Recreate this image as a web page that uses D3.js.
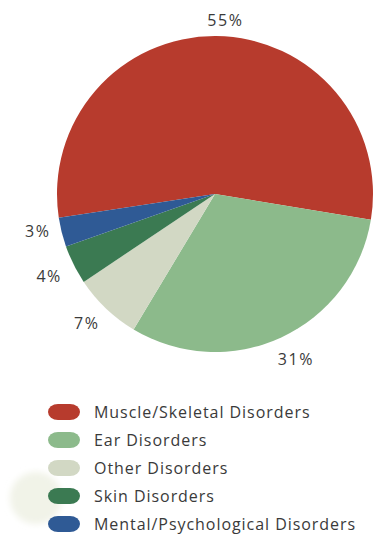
<!DOCTYPE html>
<html>
<head>
<meta charset="utf-8">
<script src="https://cdn.jsdelivr.net/npm/d3@7/dist/d3.min.js"></script>
<style>
  html, body { margin: 0; padding: 0; background: #ffffff; }
  svg { display: block; }
  text { font-family: "Open Sans", "Noto Sans", sans-serif; fill: #3a3a3a; }
</style>
</head>
<body>
<svg id="chart" width="375" height="538"></svg>
<script>
// Occupational disorder shares (percent), listed clockwise from the largest slice
const categories = ["Muscle/Skeletal Disorders", "Ear Disorders", "Other Disorders", "Skin Disorders", "Mental/Psychological Disorders"];
const shares = [55, 31, 7, 4, 3];
const shareLabels = ["55%", "31%", "7%", "4%", "3%"];
const colors = ["#b73b2d", "#8cba8b", "#d2d8c4", "#3b7a52", "#2f5a95"];

const svg = d3.select("#chart");
const cx = 215, cy = 194, radius = 158;
const deg = Math.PI / 180;

const pie = d3.pie()
  .sort(null)
  .value(d => d.value)
  .startAngle(-98.6 * deg)
  .endAngle((360 - 98.6) * deg);

const data = categories.map((c, i) => ({ name: c, value: shares[i], label: shareLabels[i], color: colors[i] }));
const arcs = pie(data);

const arc = d3.arc().innerRadius(0).outerRadius(radius);

const g = svg.append("g").attr("transform", `translate(${cx},${cy})`);

g.selectAll("path.slice")
  .data(arcs)
  .join("path")
  .attr("class", "slice")
  .attr("d", arc)
  .attr("fill", d => d.data.color);

// Percentage labels placed outside the rim, nudged off each slice's mid-angle
const labelRadius = [174, 184, 182, 185, 181];
const labelNudge = [3, -1.3, 1.2, 0.3, 2.2];
const labelPos = (d, i) => {
  const a = (d.startAngle + d.endAngle) / 2 + labelNudge[i] * deg;
  return [Math.sin(a) * labelRadius[i], -Math.cos(a) * labelRadius[i]];
};
g.selectAll("text.pct")
  .data(arcs)
  .join("text")
  .attr("class", "pct")
  .attr("text-anchor", "middle")
  .attr("dominant-baseline", "central")
  .attr("font-size", 16)
  .attr("letter-spacing", 1.6)
  .attr("x", (d, i) => labelPos(d, i)[0])
  .attr("y", (d, i) => labelPos(d, i)[1])
  .text(d => d.data.label);

// Soft pale spot behind the legend
const defs = svg.append("defs");
defs.append("filter").attr("id", "soft")
  .append("feGaussianBlur").attr("stdDeviation", 3);
svg.append("circle")
  .attr("cx", 36).attr("cy", 498).attr("r", 26)
  .attr("fill", "#f1f3e8")
  .attr("filter", "url(#soft)");

// Legend
const legendY = d3.scaleBand().domain(categories).range([398, 538]).paddingInner(0);
const legend = svg.append("g");
const rows = legend.selectAll("g.row")
  .data(data)
  .join("g")
  .attr("class", "row")
  .attr("transform", d => `translate(0,${legendY(d.name) + legendY.bandwidth() / 2})`);

rows.append("rect")
  .attr("x", 48).attr("y", -8)
  .attr("width", 32).attr("height", 16)
  .attr("rx", 10).attr("ry", 8)
  .attr("fill", d => d.color);

rows.append("text")
  .attr("x", 94)
  .attr("dominant-baseline", "central")
  .attr("font-size", 16)
  .attr("letter-spacing", 0.95)
  .text(d => d.name);
</script>
</body>
</html>
